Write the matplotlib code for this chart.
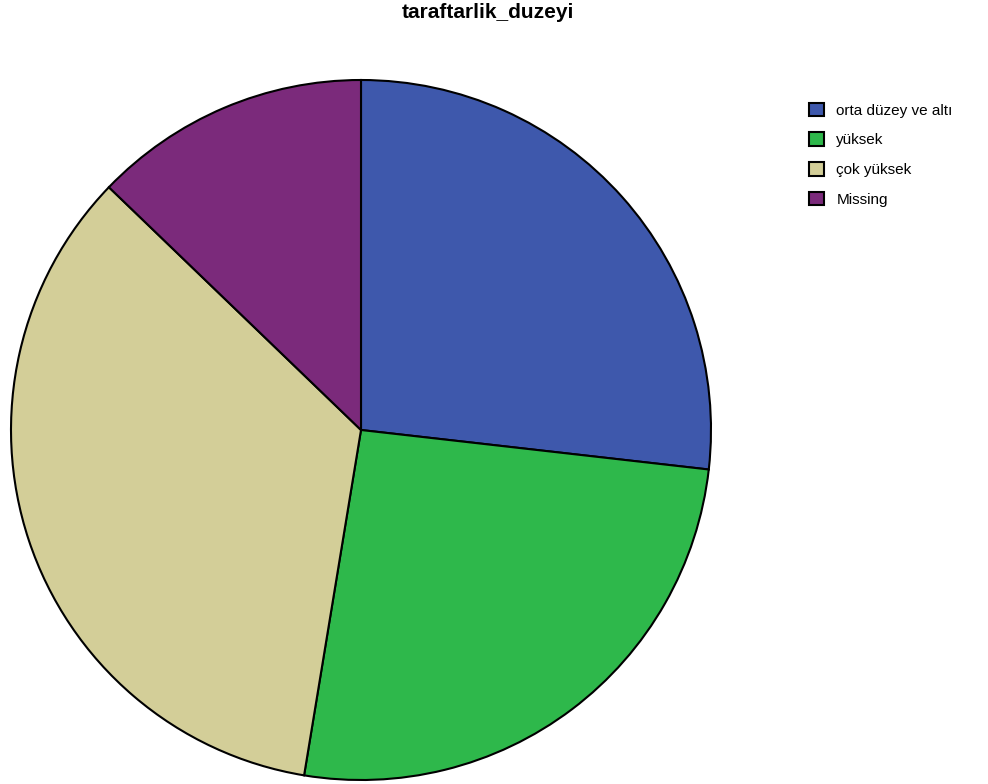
import matplotlib.pyplot as plt
from matplotlib.patches import Patch

plt.rcParams['font.family'] = ['Liberation Sans', 'DejaVu Sans']

# percent shares (clockwise from top)
categories = ['orta düzey ve altı', 'yüksek', 'çok yüksek', 'Missing']
values = [26.8, 25.8, 34.6, 12.8]
colors = ['#3E58AC', '#2EB84B', '#D3CE98', '#7B2A7B']

fig = plt.figure(figsize=(9.88, 7.84), dpi=100)
ax = fig.add_axes([11 / 988, 4 / 784, 700 / 988, 700 / 784])

ax.pie(values, colors=colors, startangle=90, counterclock=False,
       wedgeprops=dict(edgecolor='black', linewidth=1.5))
ax.set_xlim(-1.0, 1.0)
ax.set_ylim(-1.0, 1.0)
ax.set_aspect('equal')

fig.text(488 / 988, 1 - 13 / 784, 'taraftarlik_duzeyi', ha='center', va='center',
         fontsize=15, fontweight='bold')

handles = [Patch(facecolor=c, edgecolor='black', linewidth=1.5) for c in colors]
fig.legend(handles, categories, loc='upper left',
           bbox_to_anchor=(795 / 988, 1 - 89 / 784), frameon=False,
           fontsize=11, handlelength=1.0, handleheight=1.0,
           labelspacing=0.95, handletextpad=0.8)

fig.savefig('out.png', dpi=100)
